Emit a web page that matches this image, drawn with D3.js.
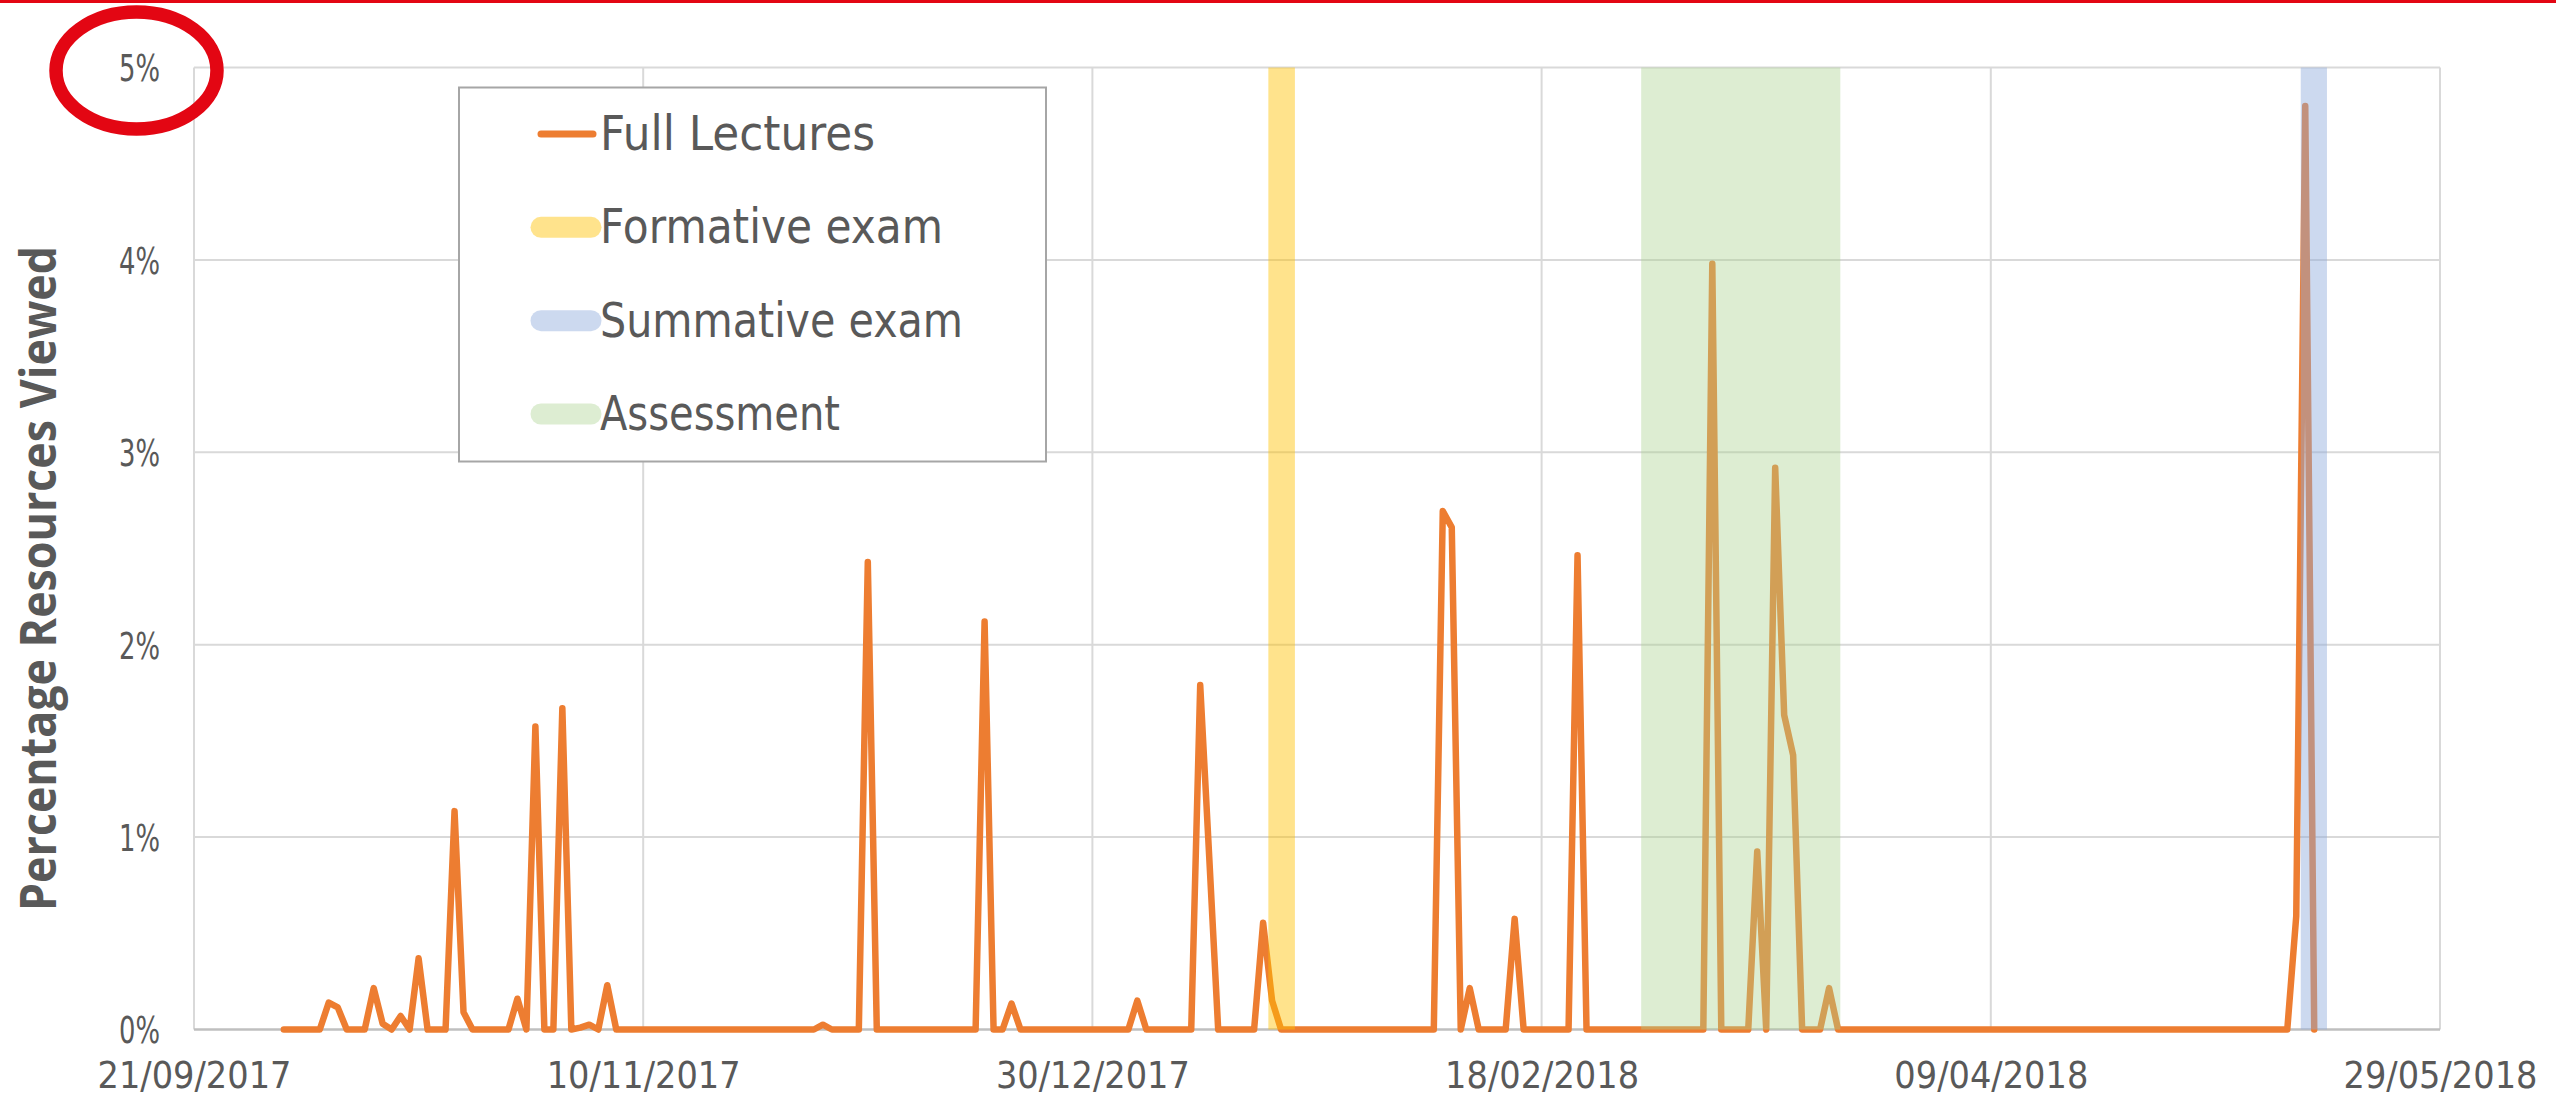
<!DOCTYPE html>
<html><head><meta charset="utf-8">
<script src="https://cdn.jsdelivr.net/npm/d3@7"></script>
<style>html,body{margin:0;padding:0;background:#fff;overflow:hidden}</style>
</head><body>
<svg id="chart" width="2574" height="1096"></svg>
<script>
// ---- data (values in percent of resources viewed, one per day) ----
const seriesName = "Full Lectures";
const firstDay = "2017-10-01";
const lectureViews = [
  0,0,0,0,0,0.14,0.115,0,0,0,            // 01/10 - 10/10/2017
  0.215,0.03,0,0.07,0,0.37,0,0,0,1.135,  // 11/10 - 20/10
  0.09,0,0,0,0,0,0.16,0,1.575,0,         // 21/10 - 30/10
  0,1.67,0,0.01,0.025,0,0.23,0,0,0,      // 31/10 - 09/11
  0,0,0,0,0,0,0,0,0,0,
  0,0,0,0,0,0,0,0,0,0,
  0.025,0,0,0,0,2.43,0,0,0,0,            // 30/11 - 09/12
  0,0,0,0,0,0,0,0,2.12,0,
  0,0.135,0,0,0,0,0,0,0,0,
  0,0,0,0,0,0.15,0,0,0,0,                // 30/12 - 08/01/2018
  0,0,1.79,0.9,0,0,0,0,0,0.555,
  0.15,0,0,0,0,0,0,0,0,0,
  0,0,0,0,0,0,0,0,0,2.695,
  2.61,0,0.215,0,0,0,0,0.575,0,0,
  0,0,0,0,2.465,0,0,0,0,0,               // 18/02 - 27/02
  0,0,0,0,0,0,0,0,0,3.98,
  0,0,0,0,0.925,0,2.92,1.635,1.425,0,
  0,0,0.215,0,0,0,0,0,0,0,
  0,0,0,0,0,0,0,0,0,0,
  0,0,0,0,0,0,0,0,0,0,
  0,0,0,0,0,0,0,0,0,0,
  0,0,0,0,0,0,0,0,0,0,
  0,0,0,0,0.59,4.8,0                     // 09/05 - 15/05/2018
];
const xTickLabels = ["21/09/2017","10/11/2017","30/12/2017","18/02/2018","09/04/2018","29/05/2018"];
const yTickValues = [0,1,2,3,4,5];
const periodNames  = ["Formative exam","Summative exam","Assessment"];
const periodStarts = ["2018-01-18T14:00","2018-05-13T12:00","2018-03-01T02:00"];
const periodEnds   = ["2018-01-21T13:00","2018-05-16T10:00","2018-03-23T06:00"];
const periodColors = ["#FFC000","#8FAADC","#A9D18E"];
const periodOpacity = [0.45,0.45,0.4];
const lineColor = "#ED7D31";

// ---- layout ----
const svg = d3.select("#chart");
const plot = {left:194, right:2440, top:67.5, bottom:1029.5};
const parseTick = d3.utcParse("%d/%m/%Y");
const parseTime = d3.utcParse("%Y-%m-%dT%H:%M");
const fmtTick = d3.utcFormat("%d/%m/%Y");
const tickDates = xTickLabels.map(parseTick);

const x = d3.scaleUtc().domain([tickDates[0], tickDates[tickDates.length-1]]).range([plot.left, plot.right]);
const y = d3.scaleLinear().domain([0,5]).range([plot.bottom, plot.top]);

const start = d3.utcParse("%Y-%m-%d")(firstDay);
const series = lectureViews.map((v,i)=>({date:d3.utcDay.offset(start,i), value:v}));

const textColor = "#595959";

// gridlines
const grid = svg.append("g");
grid.selectAll("line.h").data(yTickValues.filter(d=>d>0)).join("line")
  .attr("x1",plot.left).attr("x2",plot.right)
  .attr("y1",d=>y(d)).attr("y2",d=>y(d))
  .attr("stroke","#D9D9D9").attr("stroke-width",2);
grid.selectAll("line.v").data(tickDates).join("line")
  .attr("x1",d=>x(d)).attr("x2",d=>x(d))
  .attr("y1",plot.top).attr("y2",plot.bottom)
  .attr("stroke","#D9D9D9").attr("stroke-width",2);
grid.append("line").attr("x1",plot.left).attr("x2",plot.right)
  .attr("y1",y(0)).attr("y2",y(0)).attr("stroke","#BFBFBF").attr("stroke-width",2.5);

// line
const line = d3.line().x(d=>x(d.date)).y(d=>y(d.value));
svg.append("path").datum(series).attr("d",line)
  .attr("fill","none").attr("stroke",lineColor).attr("stroke-width",6.5)
  .attr("stroke-linejoin","round").attr("stroke-linecap","round");

// exam / assessment periods (drawn over the line, translucent)
svg.append("g").selectAll("rect").data(periodNames).join("rect")
  .attr("x",(d,i)=>x(parseTime(periodStarts[i])))
  .attr("width",(d,i)=>x(parseTime(periodEnds[i]))-x(parseTime(periodStarts[i])))
  .attr("y",y(5)).attr("height",y(0)-y(5))
  .attr("fill",(d,i)=>periodColors[i]).attr("fill-opacity",(d,i)=>periodOpacity[i]);

// axes
const xAxis = svg.append("g").attr("transform",`translate(0,${plot.bottom})`)
  .call(d3.axisBottom(x).tickValues(tickDates).tickFormat(fmtTick).tickSize(0));
xAxis.select(".domain").remove();
xAxis.selectAll("text").attr("y",58.5).attr("dy",0)
  .attr("fill",textColor).attr("font-family","DejaVu Sans").attr("font-size",37)
  .attr("textLength",194).attr("lengthAdjust","spacingAndGlyphs");

const yAxis = svg.append("g").attr("transform",`translate(${plot.left},0)`)
  .call(d3.axisLeft(y).tickValues(yTickValues).tickFormat(d=>d+"%").tickSize(0).tickPadding(34));
yAxis.select(".domain").remove();
yAxis.selectAll("text").attr("dy","0.36em")
  .attr("fill",textColor).attr("font-family","DejaVu Sans").attr("font-size",37)
  .attr("textLength",41).attr("lengthAdjust","spacingAndGlyphs");

// y title
svg.append("text").attr("transform","translate(56,578.5) rotate(-90)")
  .attr("text-anchor","middle").attr("fill",textColor)
  .attr("font-family","Open Sans").attr("font-weight",700).attr("font-size",50)
  .attr("textLength",665).attr("lengthAdjust","spacingAndGlyphs")
  .text("Percentage Resources Viewed");

// legend
const legend = svg.append("g");
legend.append("rect").attr("x",459).attr("y",87.5).attr("width",587).attr("height",374)
  .attr("fill","#fff").attr("stroke","#A6A6A6").attr("stroke-width",2);
const legendItems = [seriesName].concat(periodNames);
const legendWidths = [275,343,363,240];
const rowY = d3.scaleLinear().domain([0,3]).range([150,430]);
legendItems.forEach((name,i)=>{
  const cy = rowY(i) - 16;
  if(i===0){
    legend.append("line").attr("x1",541).attr("x2",593).attr("y1",cy).attr("y2",cy)
      .attr("stroke",lineColor).attr("stroke-width",7).attr("stroke-linecap","round");
  } else {
    legend.append("line").attr("x1",541).attr("x2",591).attr("y1",cy).attr("y2",cy)
      .attr("stroke",periodColors[i-1]).attr("stroke-opacity",periodOpacity[i-1])
      .attr("stroke-width",21).attr("stroke-linecap","round");
  }
  legend.append("text").attr("x",600).attr("y",rowY(i))
    .attr("fill",textColor).attr("font-family","DejaVu Sans").attr("font-size",48)
    .attr("textLength",legendWidths[i]).attr("lengthAdjust","spacingAndGlyphs")
    .text(name);
});

// red annotation marks
svg.append("rect").attr("x",0).attr("y",0).attr("width",2556).attr("height",3).attr("fill","#E30613");
svg.append("ellipse").attr("cx",136.5).attr("cy",70.5).attr("rx",80.5).attr("ry",58.5)
  .attr("fill","none").attr("stroke","#E30613").attr("stroke-width",13.5);
</script>
</body></html>
